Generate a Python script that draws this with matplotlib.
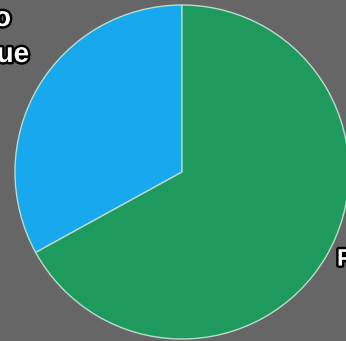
import matplotlib
matplotlib.use("Agg")
import matplotlib.pyplot as plt
import matplotlib.patheffects as pe

# share of each slice, drawn counter-clockwise from twelve o'clock
slices = ["Blue", "Green"]
shares = [33, 67]
colors = ["#17a8ee", "#1f9a5f"]

W, H = 346, 341

fig = plt.figure(figsize=(W / 100, H / 100), dpi=100, facecolor="#666666")
ax = fig.add_axes([0, 0, 1, 1])
ax.set_facecolor("#666666")

wedges, _ = ax.pie(shares, colors=colors, startangle=90, counterclock=True,
                   center=(182, H - 172), radius=167, frame=True,
                   wedgeprops=dict(edgecolor="#b9dccb", linewidth=1.0))

ax.set_xlim(0, W)
ax.set_ylim(0, H)
ax.set_aspect("equal")
ax.axis("off")

outline = [pe.withStroke(linewidth=3.5, foreground="black")]
label_kw = dict(color="white", fontweight="bold", family="Liberation Sans",
                path_effects=outline, va="center")

# slice names sit outside the circle, partly off the edge
ax.text(11, H - 19, "Two", ha="right", fontsize=20, **label_kw)
ax.text(29, H - 55, "Blue", ha="right", fontsize=20, **label_kw)
ax.text(337, H - 259, "Pyramid", ha="left", fontsize=17, **label_kw)

fig.savefig("out.png", dpi=100, facecolor=fig.get_facecolor())
